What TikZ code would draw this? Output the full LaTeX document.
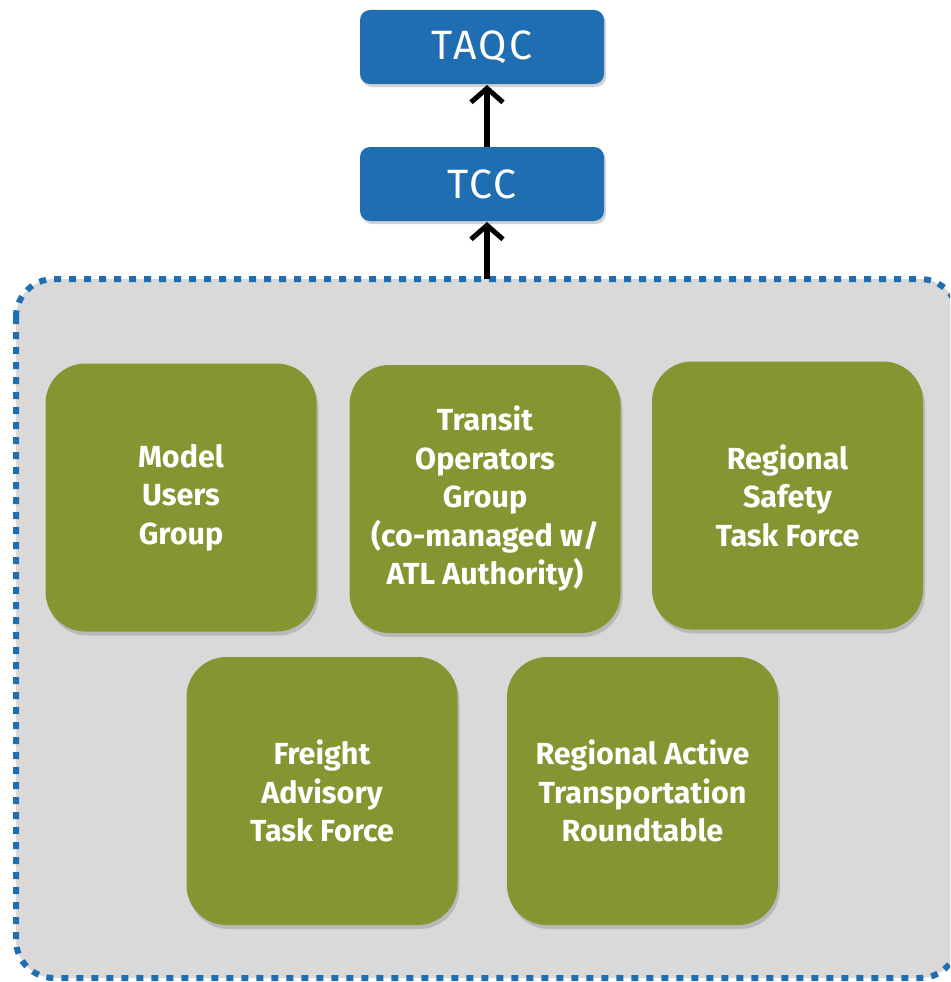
\documentclass[tikz,border=0pt]{standalone}
\usepackage{fontspec}
\setmainfont{Fira Sans}
\newfontfamily\titlefont[LetterSpace=6]{Fira Sans}
\usetikzlibrary{arrows.meta,shadows}
\definecolor{boxblue}{HTML}{1F6EB1}
\definecolor{boxgreen}{HTML}{839632}
\definecolor{panelgray}{HTML}{D9D9D9}
\begin{document}
\begin{tikzpicture}[x=1pt,y=-1pt,
  bluebox/.style={rectangle, rounded corners=10pt, fill=boxblue, text=white,
    minimum width=244pt, minimum height=74pt, inner sep=0pt,
    font=\titlefont\fontsize{41}{44}\selectfont,
    drop shadow={opacity=0.35, shadow xshift=2pt, shadow yshift=-3pt}},
  greenbox/.style={rectangle, rounded corners=40pt, fill=boxgreen, text=white,
    minimum width=271pt, minimum height=268pt, inner sep=0pt, align=center,
    font=\fontsize{30.5}{38.5}\selectfont\bfseries,
    drop shadow={opacity=0.35, shadow xshift=2pt, shadow yshift=-4pt}},
  uparrow/.style={line width=6pt, -{Straight Barb[length=14pt,width=32pt,line width=5pt]}}
]
\useasboundingbox (0,0) rectangle (950,982);
\clip (0,0) rectangle (950,982);
\fill[white] (0,0) rectangle (950,982);
\draw[fill=panelgray, draw=boxblue, line width=6pt, dash pattern=on 7pt off 8pt,
  rounded corners=38pt] (16,279) rectangle (958,978);
\coordinate (panel) at (487,279);
\node[bluebox] (taqc) at (482,47) {TAQC};
\node[bluebox] (tcc) at (482,184) {TCC};
\coordinate (tccin) at (487,222);
\coordinate (tccout) at (487,147);
\coordinate (taqcin) at (487,85);
\draw[uparrow] (panel) -- (tccin);
\draw[uparrow] (tccout) -- (taqcin);
\node[greenbox] (model) at (181,497.5) {Model\\Users\\Group};
\node[greenbox] (transit) at (485,499) {Transit\\Operators\\Group\\(co-managed w/\\ATL Authority)};
\node[greenbox] (safety) at (787.5,495.5) {Regional\\Safety\\Task Force};
\node[greenbox] (freight) at (322,791) {Freight\\Advisory\\Task Force};
\node[greenbox] (active) at (642.5,791) {Regional Active\\Transportation\\Roundtable};
\end{tikzpicture}
\end{document}
